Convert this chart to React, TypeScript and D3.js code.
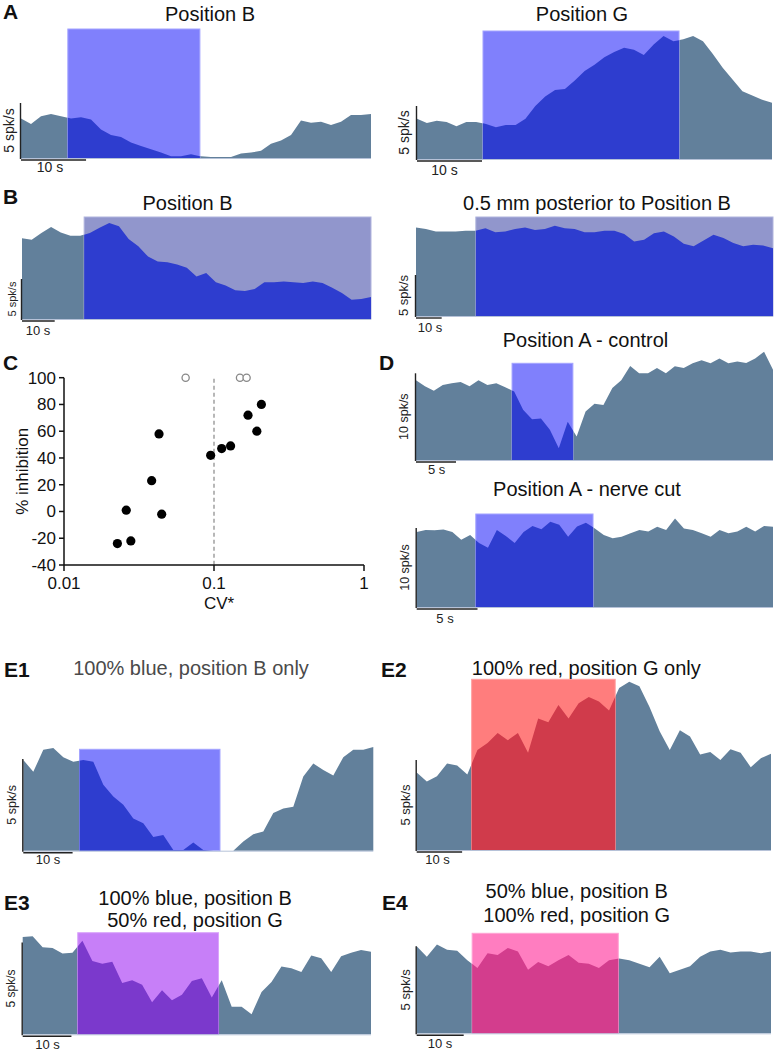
import React from "react";
import * as d3 from "d3";

// ---------------- DATA ----------------
// Firing-rate traces (spk/s), uniformly sampled over each recording's duration
const traceA_posB = [3.6, 3.1, 3.8, 4.0, 3.8, 3.6, 3.7, 3.5, 2.6, 2.1, 1.9, 1.4, 1.1, 0.8, 0.5, 0.15, 0.15, 0.35, 0.15, 0.1, 0.1, 0.1, 0.4, 0.5, 0.65, 1.3, 1.6, 2.1, 3.4, 3.2, 3.3, 3.0, 3.3, 3.9, 3.9, 4.0];
const traceA_posG = [3.8, 3.4, 3.6, 3.5, 3.1, 3.5, 3.5, 3.3, 3.0, 3.2, 3.2, 3.8, 5.0, 5.9, 6.5, 6.6, 7.4, 8.3, 8.9, 9.6, 10.1, 10.5, 10.3, 9.8, 10.8, 11.6, 11.1, 11.3, 11.6, 11.1, 9.9, 8.6, 7.5, 6.4, 6.0, 5.6, 5.3];
const traceB_posB = [10.1, 9.9, 10.75, 11.5, 10.8, 10.4, 10.4, 10.75, 11.4, 12.0, 11.6, 10.0, 9.1, 7.8, 7.2, 7.1, 6.8, 6.4, 5.3, 5.75, 4.6, 4.2, 3.6, 3.5, 3.75, 4.6, 4.6, 4.7, 4.6, 4.5, 4.7, 4.5, 3.9, 3.25, 2.4, 2.5, 2.75];
const traceB_posterior = [10.8, 10.6, 10.3, 10.3, 10.3, 10.4, 10.4, 10.7, 10.2, 10.3, 10.6, 10.8, 10.5, 10.6, 11.0, 10.7, 10.6, 10.2, 10.2, 10.4, 10.4, 10.0, 9.1, 9.3, 10.1, 10.3, 9.7, 8.8, 8.5, 9.2, 9.9, 9.5, 8.9, 8.5, 8.7, 8.6, 8.25];
const traceD_control = [9.2, 8.5, 8.0, 8.65, 8.85, 9.0, 8.5, 9.2, 8.65, 8.85, 8.4, 7.9, 5.8, 4.7, 4.8, 3.5, 1.35, 4.4, 2.7, 5.6, 6.5, 6.35, 8.3, 9.2, 10.85, 10.0, 10.0, 10.6, 10.0, 10.8, 10.6, 11.15, 11.5, 11.15, 11.7, 11.15, 11.35, 11.2, 11.7, 12.5, 10.4];
const traceD_nerveCut = [9.5, 9.75, 9.7, 9.8, 9.5, 8.5, 9.1, 8.1, 7.5, 9.75, 9.0, 8.1, 9.5, 10.25, 9.85, 10.8, 10.4, 8.9, 10.2, 10.65, 9.95, 9.1, 8.7, 8.9, 9.35, 9.75, 9.55, 10.15, 9.75, 11.2, 9.95, 9.75, 9.35, 8.9, 9.75, 9.35, 9.55, 10.15, 9.55, 10.25, 10.15];
const traceE1 = [4.95, 4.3, 5.5, 5.6, 5.1, 4.85, 4.95, 4.85, 3.6, 2.95, 2.5, 1.75, 1.5, 0.75, 0.85, 0.04, 0.04, 0.45, 0.04, 0, 0, 0, 0.5, 0.9, 1.05, 2.05, 2.3, 2.4, 4.05, 4.75, 4.4, 4.1, 5.1, 5.5, 5.5, 5.65];
const traceE2 = [4.3, 3.8, 4.1, 4.8, 4.7, 4.2, 5.55, 5.95, 6.5, 6.1, 6.5, 5.4, 7.3, 7.1, 8.05, 7.3, 8.15, 8.5, 8.25, 7.75, 9.0, 9.35, 9.1, 7.95, 6.6, 5.55, 6.65, 6.3, 5.3, 5.45, 5.0, 5.6, 5.4, 4.6, 5.1, 5.35];
const traceE3 = [5.3, 5.35, 4.75, 4.7, 4.4, 4.45, 5.1, 4.0, 3.85, 3.95, 2.8, 2.95, 2.7, 1.75, 2.4, 1.85, 2.15, 2.9, 3.05, 2.0, 2.95, 1.5, 1.5, 1.1, 2.3, 2.85, 3.7, 3.6, 3.4, 4.3, 4.15, 3.4, 4.25, 4.45, 4.6, 4.5];
const traceE4 = [5.0, 4.4, 5.1, 4.8, 4.75, 4.2, 3.75, 4.6, 4.5, 4.9, 4.7, 3.65, 4.1, 3.85, 4.2, 4.5, 4.05, 4.0, 3.75, 4.2, 4.3, 4.2, 4.0, 3.8, 4.4, 3.45, 3.65, 3.85, 4.4, 4.7, 4.8, 4.65, 4.7, 4.7, 4.6, 4.7];

const traceTitles = [
  ["Position B"],
  ["Position G"],
  ["Position B"],
  ["0.5 mm posterior to Position B"],
  ["Position A - control"],
  ["Position A - nerve cut"],
  ["100% blue, position B only"],
  ["100% red, position G only"],
  ["100% blue, position B", "50% red, position G"],
  ["50% blue, position B", "100% red, position G"],
];
const durations = [53.8, 54.6, 106.7, 139, 44.6, 29.3, 71, 78, 71.5, 75.4]; // s
const stimOn = [7.2, 10.15, 19, 23.3, 12.0, 4.86, 11.4, 12.1, 11.3, 11.8]; // s
const stimOff = [27.5, 40.3, 106.7, 139, 19.6, 14.5, 39.9, 43.7, 40.2, 42.9]; // s
const rateBar = [5, 5, 5, 5, 10, 10, 5, 5, 5, 5]; // spk/s
const timeBar = [10, 10, 10, 10, 5, 5, 10, 10, 10, 10]; // s

// Panel C: CV* vs % inhibition
const cvFilled = [0.0227, 0.0279, 0.026, 0.0448, 0.0384, 0.043, 0.095, 0.1125, 0.129, 0.1686, 0.193, 0.207];
const inhFilled = [-24, -22, 1, -2, 23, 58, 42, 47, 49, 72, 60, 80];
const cvOpen = [0.0647, 0.149, 0.165];
const inhOpen = [100, 100, 100];
const cvTicks = [0.01, 0.1, 1];
const cvTickLabels = ["0.01", "0.1", "1"];
const inhTicks = [-40, -20, 0, 20, 40, 60, 80, 100];
const cvThreshold = 0.1;

const TRACES = [traceA_posB, traceA_posG, traceB_posB, traceB_posterior, traceD_control, traceD_nerveCut, traceE1, traceE2, traceE3, traceE4];

// ---------------- LAYOUT / STYLE ----------------
const FONT = "Liberation Sans, Arial, Helvetica, sans-serif";
const GRAY = "#62809b";
const BLUE_RECT = "#8080fc";
const BLUE_DARK = "#2e3dcf";

const LAYOUT = [
  { x0: 21, x1: 371, base: 158, barPx: 55, stimTop: 29, titleX: 210, titleY: [21], vOff: -11.5, vFont: 14, tX: 50, tY: 171.5, tFont: 14, rect: BLUE_RECT, rectStroke: "#a4a4ff", dark: BLUE_DARK, titleColor: "#111" },
  { x0: 417, x1: 772, base: 159, barPx: 53, stimTop: 31, titleX: 582, titleY: [21], vOff: -12, vFont: 14, tX: 444.5, tY: 175, tFont: 14, rect: BLUE_RECT, rectStroke: "#a4a4ff", dark: BLUE_DARK, titleColor: "#111" },
  { x0: 22, x1: 371, base: 319, barPx: 40, stimTop: 217, titleX: 187.5, titleY: [210], vOff: -9, vFont: 11, tX: 38, tY: 335, tFont: 13, rect: "#9196cc", rectStroke: "#b0b4dd", dark: BLUE_DARK, titleColor: "#111" },
  { x0: 416, x1: 773, base: 316, barPx: 41, stimTop: 217, titleX: 597, titleY: [210], vOff: -12.5, vFont: 13, tX: 430, tY: 331.5, tFont: 13, rect: "#9196cc", rectStroke: "#b0b4dd", dark: BLUE_DARK, titleColor: "#111" },
  { x0: 416, x1: 773, base: 460, barPx: 86.7, stimTop: 363.3, titleX: 585.5, titleY: [346.7], vOff: -12, vFont: 12.5, tX: 436.7, tY: 474, tFont: 13, rect: BLUE_RECT, rectStroke: "#a4a4ff", dark: BLUE_DARK, titleColor: "#111" },
  { x0: 416.7, x1: 773, base: 607, barPx: 79, stimTop: 514, titleX: 587, titleY: [495.7], vOff: -12, vFont: 12.5, tX: 445, tY: 623.3, tFont: 13, rect: BLUE_RECT, rectStroke: "#a4a4ff", dark: BLUE_DARK, titleColor: "#111" },
  { x0: 23.3, x1: 373.3, base: 850.7, barPx: 91.7, stimTop: 749.3, titleX: 191, titleY: [675], vOff: -11, vFont: 12.5, tX: 48, tY: 864.3, tFont: 13, rect: BLUE_RECT, rectStroke: "#a4a4ff", dark: BLUE_DARK, titleColor: "#4a4a4a" },
  { x0: 416.7, x1: 771, base: 850, barPx: 90, stimTop: 679.3, titleX: 586.3, titleY: [675], vOff: -11, vFont: 13, tX: 437.5, tY: 864, tFont: 13, rect: "#ff7d7d", rectStroke: "#ffa0a0", dark: "#d03b4b", titleColor: "#111" },
  { x0: 22.7, x1: 371, base: 1034.3, barPx: 91.7, stimTop: 932.7, titleX: 195, titleY: [905, 926.7], vOff: -11, vFont: 12, tX: 47.5, tY: 1049.3, tFont: 13, rect: "#c77ff8", rectStroke: "#d9a4fb", dark: "#7b39cc", titleColor: "#111" },
  { x0: 416.7, x1: 771, base: 1033.3, barPx: 87, stimTop: 933.3, titleX: 576.7, titleY: [898.3, 921.7], vOff: -11, vFont: 13, tX: 440, tY: 1048.3, tFont: 13, rect: "#ff7dc0", rectStroke: "#ffa3d4", dark: "#d33d8d", titleColor: "#111" },
];

const PANEL_LETTERS = [
  { t: "A", x: 3, y: 19 },
  { t: "B", x: 3, y: 204 },
  { t: "C", x: 3, y: 370 },
  { t: "D", x: 379, y: 370 },
  { t: "E1", x: 4, y: 677 },
  { t: "E2", x: 381, y: 677 },
  { t: "E3", x: 4, y: 910 },
  { t: "E4", x: 382, y: 910 },
];

function TracePanel({ idx }: { idx: number }) {
  const L = LAYOUT[idx];
  const data = TRACES[idx];
  const dur = durations[idx];
  const x = d3.scaleLinear().domain([0, dur]).range([L.x0, L.x1]);
  const y = d3.scaleLinear().domain([0, rateBar[idx]]).range([L.base, L.base - L.barPx]);
  const step = dur / (data.length - 1);
  const area = d3
    .area<number>()
    .x((_d, i) => x(i * step))
    .y0(L.base)
    .y1((d) => y(d))
    .curve(d3.curveLinear);
  const path = area(data) || "";
  const sx0 = x(stimOn[idx]);
  const sx1 = x(stimOff[idx]);
  const clipId = `stimclip-${idx}`;
  const vx = L.x0 - 0.5;
  const vcx = vx + L.vOff;
  const vcy = L.base - L.barPx / 2;
  return (
    <g>
      <defs>
        <clipPath id={clipId}>
          <rect x={sx0} y={0} width={sx1 - sx0} height={1052} />
        </clipPath>
      </defs>
      <path d={path} fill={GRAY} />
      <rect x={sx0} y={L.stimTop} width={sx1 - sx0} height={L.base - L.stimTop} fill={L.rect} stroke={L.rectStroke} strokeWidth={1} />
      <path d={path} fill={L.dark} clipPath={`url(#${clipId})`} />
      <line x1={L.x0} x2={L.x1} y1={L.base + 0.5} y2={L.base + 0.5} stroke="#b6c2d8" strokeWidth={1} />
      {/* vertical scale bar */}
      <line x1={vx} x2={vx} y1={L.base + 1} y2={y(rateBar[idx])} stroke="#222" strokeWidth={1.4} />
      <text
        transform={`translate(${vcx},${vcy}) rotate(-90)`}
        dy="0.35em"
        textAnchor="middle"
        fontFamily={FONT}
        fontSize={L.vFont}
        fill="#222"
      >
        {`${rateBar[idx]} spk/s`}
      </text>
      {/* horizontal scale bar */}
      <line x1={L.x0} x2={x(timeBar[idx])} y1={L.base + 2} y2={L.base + 2} stroke="#222" strokeWidth={1.4} />
      <text x={L.tX} y={L.tY} textAnchor="middle" fontFamily={FONT} fontSize={L.tFont} fill="#222">
        {`${timeBar[idx]} s`}
      </text>
      {traceTitles[idx].map((t, k) => (
        <text key={k} x={L.titleX} y={L.titleY[k]} textAnchor="middle" fontFamily={FONT} fontSize={20} fill={L.titleColor}>
          {t}
        </text>
      ))}
    </g>
  );
}

function ScatterC() {
  const x = d3.scaleLog().domain([0.01, 1]).range([64, 364]);
  const y = d3.scaleLinear().domain([-40, 100]).range([565, 377.7]);
  return (
    <g fontFamily={FONT}>
      <line x1={x(cvThreshold)} x2={x(cvThreshold)} y1={y(100) + 1} y2={y(-40)} stroke="#888" strokeWidth={1.2} strokeDasharray="4,3" />
      <line x1={64} x2={64} y1={y(100)} y2={y(-40)} stroke="#111" strokeWidth={1.5} />
      <line x1={64} x2={364} y1={y(-40)} y2={y(-40)} stroke="#111" strokeWidth={1.5} />
      {inhTicks.map((t) => (
        <g key={t}>
          <line x1={59} x2={64} y1={y(t)} y2={y(t)} stroke="#111" strokeWidth={1.5} />
          <text x={56} y={y(t)} dy="0.35em" textAnchor="end" fontSize={17} fill="#111">
            {t}
          </text>
        </g>
      ))}
      {cvTicks.map((t, i) => (
        <g key={t}>
          <line x1={x(t)} x2={x(t)} y1={y(-40)} y2={y(-40) + 6} stroke="#111" strokeWidth={1.5} />
          <text x={x(t)} y={589} textAnchor="middle" fontSize={17} fill="#111">
            {cvTickLabels[i]}
          </text>
        </g>
      ))}
      <text x={219} y={608.5} textAnchor="middle" fontSize={17} fill="#111">
        CV*
      </text>
      <text transform={`translate(22.5,${(y(100) + y(-40)) / 2}) rotate(-90)`} dy="0.35em" textAnchor="middle" fontSize={17} fill="#111">
        % inhibition
      </text>
      {cvOpen.map((c, i) => (
        <circle key={`o${i}`} cx={x(c)} cy={y(inhOpen[i])} r={3.6} fill="#fff" stroke="#888" strokeWidth={1.3} />
      ))}
      {cvFilled.map((c, i) => (
        <circle key={`f${i}`} cx={x(c)} cy={y(inhFilled[i])} r={4.6} fill="#000" />
      ))}
    </g>
  );
}

export default function App() {
  return (
    <svg
      width={775}
      height={1052}
      viewBox="0 0 775 1052"
      style={{ position: "absolute", left: 0, top: 0, background: "#fff" }}
    >
      <rect x={0} y={0} width={775} height={1052} fill="#fff" />
      {TRACES.map((_t, i) => (
        <TracePanel key={i} idx={i} />
      ))}
      <ScatterC />
      {PANEL_LETTERS.map((p) => (
        <text key={p.t} x={p.x} y={p.y} fontFamily={FONT} fontWeight="bold" fontSize={21} fill="#111">
          {p.t}
        </text>
      ))}
    </svg>
  );
}
